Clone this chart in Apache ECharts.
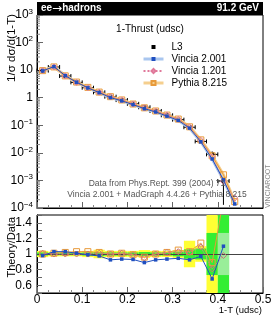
<!DOCTYPE html>
<html><head><meta charset="utf-8">
<script src="https://cdn.jsdelivr.net/npm/echarts@6/dist/echarts.min.js"></script>
<style>html,body{margin:0;padding:0;background:#fff}#c{width:277px;height:323px}</style>
</head><body><div id="c"></div>
<script>
// ---- data ----
const binCenters = [0.0125,0.0375,0.0625,0.0875,0.1125,0.1375,0.1625,0.1875,0.2125,0.2375,0.2625,0.2875,0.3125,0.3375,0.3625,0.3875,0.4125];
const mcCenters  = [0.0125,0.0375,0.0625,0.0875,0.1125,0.1375,0.1625,0.1875,0.2125,0.2375,0.2625,0.2875,0.3125,0.3375,0.3625,0.3875,0.4125,0.4375];
const binHalfWidth = 0.0125;
const l3Values = [9.6,13.0,6.1,3.6,2.3,1.57,1.09,0.82,0.60,0.45,0.33,0.23,0.16,0.085,0.026,0.0088,0.00095];
const l3Errors = [0.3,0.4,0.2,0.1,0.07,0.05,0.04,0.03,0.02,0.02,0.015,0.01,0.008,0.008,0.002,0.0025,0.00082];
const vincia2Values = [9.4,13.4,6.3,3.64,2.28,1.53,1.01,0.77,0.56,0.40,0.305,0.215,0.151,0.079,0.0252,0.0060,0.00105,0.00014];
const vincia1Values = [9.7,13.0,6.1,3.6,2.3,1.59,1.09,0.83,0.59,0.43,0.33,0.235,0.165,0.087,0.0283,0.0071,0.00093,0.00023];
const pythiaValues  = [9.6,13.1,6.2,3.7,2.37,1.6,1.09,0.83,0.59,0.43,0.33,0.235,0.168,0.088,0.0296,0.0078,0.0016,0.00017];
const vincia2Ratio = [0.98,1.03,1.03,1.01,0.99,0.975,0.925,0.935,0.93,0.89,0.925,0.935,0.945,0.925,0.97,0.68,1.10];
const vincia1Ratio = [1.01,1.0,1.0,1.0,1.0,1.01,1.0,1.01,0.99,0.95,1.0,1.02,1.03,1.02,1.09,0.81,0.98];
const pythiaRatio  = [1.0,1.01,1.02,1.03,1.03,1.02,1.0,1.01,0.99,0.96,1.0,1.02,1.05,1.03,1.14,0.89,1.70];
const totalErrHW = [0.04,0.03,0.03,0.03,0.04,0.055,0.04,0.04,0.04,0.05,0.04,0.04,0.05,0.17,0.10,1.0,0.27];
const statErrHW  = [0.02,0.015,0.015,0.015,0.02,0.025,0.02,0.02,0.02,0.025,0.02,0.02,0.03,0.06,0.07,0.27,1.0];
const logMinorMantissas = [2,3,4,5,6,7,8,9];
const logDecades = [-4,-3,-2,-1,0,1,2];

// ---- styles ----
const FONT = "'Liberation Sans', Arial, sans-serif";
const C_V2 = '#1f4fc0', C_V2_BAND = '#a9c6ef';
const C_V1 = '#e0789a';
const C_PY = '#e89a3a', C_PY_BAND = '#f5cf8e';

const chart = echarts.init(document.getElementById('c'), null, {renderer:'canvas'});

function pairs(xs, ys){ return ys.map((y,i)=>[xs[i], y]); }
const minorLogTicks = [];
logDecades.forEach(k => logMinorMantissas.forEach(m => minorLogTicks.push([0, m*Math.pow(10,k)])));

function supLabel(v){
  const e = Math.round(Math.log10(v));
  if (e === 0) return '1';
  if (e === 1) return '10';
  return '10{s|' + (e < 0 ? '\u2212' + (-e) : e) + '}';
}

const errBarSeries = {
  type:'custom', xAxisIndex:0, yAxisIndex:0, silent:true, z:3,
  data: binCenters.map((x,i)=>[x, l3Values[i], l3Errors[i]]),
  renderItem(params, api){
    const x = api.value(0), y = api.value(1), e = api.value(2);
    const pL = api.coord([x-binHalfWidth, y]);
    const pR = api.coord([x+binHalfWidth, y]);
    const pT = api.coord([x, y+e]);
    const pB = api.coord([x, Math.max(y-e, 1e-4)]);
    const st = {stroke:'#000', lineWidth:1};
    return {type:'group', children:[
      {type:'line', shape:{x1:pL[0],y1:pL[1],x2:pR[0],y2:pR[1]}, style:st},
      {type:'line', shape:{x1:pL[0],y1:pL[1]-2,x2:pL[0],y2:pL[1]+2}, style:st},
      {type:'line', shape:{x1:pR[0],y1:pR[1]-2,x2:pR[0],y2:pR[1]+2}, style:st},
      {type:'line', shape:{x1:pT[0],y1:pT[1],x2:pB[0],y2:pB[1]}, style:st}
    ]};
  }
};

const minorTickSeries = {
  type:'custom', xAxisIndex:0, yAxisIndex:0, silent:true, z:5,
  data: minorLogTicks,
  renderItem(params, api){
    const p = api.coord([api.value(0), api.value(1)]);
    return {type:'line', shape:{x1:p[0], y1:p[1], x2:p[0]+3, y2:p[1]}, style:{stroke:'#888', lineWidth:1}};
  }
};

const bandSeries = {
  type:'custom', xAxisIndex:1, yAxisIndex:1, silent:true, z:1, clip:true,
  data: binCenters.map((x,i)=>[x, totalErrHW[i], statErrHW[i]]),
  renderItem(params, api){
    const x = api.value(0), t = api.value(1), s = api.value(2);
    const cs = params.coordSys;
    function rect(hw, fill){
      const a = api.coord([x-binHalfWidth, 1+hw]);
      const b = api.coord([x+binHalfWidth, 1-hw]);
      const y0 = Math.max(a[1], cs.y), y1 = Math.min(b[1], cs.y+cs.height);
      return {type:'rect', shape:{x:a[0], y:y0, width:b[0]-a[0], height:y1-y0}, style:{fill:fill}};
    }
    const ch = [];
    if (t >= s){ ch.push(rect(t,'#ffff33')); ch.push(rect(s,'#33ee33')); }
    else { ch.push(rect(s,'#33ee33')); ch.push(rect(t,'#99ee99')); }
    return {type:'group', children: ch};
  },
  markLine:{silent:true, symbol:'none', label:{show:false}, lineStyle:{color:'#444', width:1, type:'solid'}, data:[{yAxis:1}]}
};

const axisLbl = {color:'#000', fontFamily:FONT, fontSize:12};

const option = {
  animation:false,
  grid:[
    {left:37, right:14, top:15, height:193, show:true, borderColor:'#000', borderWidth:1, backgroundColor:'transparent'},
    {left:37, right:14, top:215, height:78, show:true, borderColor:'#000', borderWidth:1, backgroundColor:'transparent'}
  ],
  xAxis:[
    {gridIndex:0, type:'value', min:0, max:0.5, interval:0.1,
     axisLine:{lineStyle:{color:'#000'}}, axisTick:{inside:true, length:6, lineStyle:{color:'#666'}},
     minorTick:{show:true, splitNumber:4, length:3, lineStyle:{color:'#888'}},
     axisLabel:{show:false}, splitLine:{show:false}},
    {gridIndex:1, type:'value', min:0, max:0.5, interval:0.1,
     axisLine:{lineStyle:{color:'#000'}}, axisTick:{inside:true, length:6, lineStyle:{color:'#666'}},
     minorTick:{show:true, splitNumber:4, length:3, lineStyle:{color:'#888'}},
     axisLabel:Object.assign({margin:1, formatter:v=>(v===0?'0':String(+v.toFixed(1)))}, axisLbl),
     splitLine:{show:false}}
  ],
  yAxis:[
    {gridIndex:0, type:'log', logBase:10, min:1e-4, max:1e3,
     axisLine:{lineStyle:{color:'#000'}}, axisTick:{inside:true, length:6, lineStyle:{color:'#666'}},
     axisLabel:Object.assign({margin:4, formatter:supLabel, rich:{s:{fontSize:8, fontFamily:FONT, color:'#000', padding:[0,0,7,0]}}}, axisLbl),
     splitLine:{show:false}},
    {gridIndex:1, type:'value', min:0.5, max:1.5, interval:0.1,
     axisLine:{lineStyle:{color:'#000'}}, axisTick:{inside:true, length:5, lineStyle:{color:'#666'}},
     axisLabel:Object.assign({margin:5, formatter:v=>{const r=Math.round(v*10); if(r%2!==0||r<6||r>14) return ''; return r===10?'1':(r/10).toFixed(1);}}, axisLbl),
     splitLine:{show:false}}
  ],
  legend:{
    orient:'vertical', left:137, top:37, itemWidth:20, itemHeight:5, itemGap:2,
    textStyle:{fontFamily:FONT, fontSize:10, lineHeight:10, color:'#000', padding:[0,0,0,3]},
    data:[
      {name:'L3'},
      {name:'Vincia 2.001', lineStyle:{color:C_V2_BAND, width:3}},
      {name:'Vincia 1.201'},
      {name:'Pythia 8.215', lineStyle:{color:C_PY_BAND, width:3}}
    ]
  },
  series:[
    errBarSeries,
    {name:'L3', type:'line', xAxisIndex:0, yAxisIndex:0, z:3, data:pairs(binCenters,l3Values),
     symbol:'rect', symbolSize:4, itemStyle:{color:'#000'}, lineStyle:{opacity:0, width:0}},
    {name:'v2band', type:'line', xAxisIndex:0, yAxisIndex:0, z:4, silent:true, data:pairs(mcCenters,vincia2Values),
     symbol:'none', lineStyle:{color:C_V2_BAND, width:3}},
    {name:'pyband', type:'line', xAxisIndex:0, yAxisIndex:0, z:4, silent:true, data:pairs(mcCenters,pythiaValues),
     symbol:'none', lineStyle:{color:C_PY_BAND, width:3}},
    {name:'Pythia 8.215', type:'line', xAxisIndex:0, yAxisIndex:0, z:5, data:pairs(mcCenters,pythiaValues),
     symbol:'rect', symbolSize:6, itemStyle:{color:'rgba(0,0,0,0)', borderColor:C_PY, borderWidth:1}, lineStyle:{color:C_PY, width:1}},
    {name:'Vincia 1.201', type:'line', xAxisIndex:0, yAxisIndex:0, z:6, data:pairs(mcCenters,vincia1Values),
     symbol:'diamond', symbolSize:6, itemStyle:{color:'rgba(0,0,0,0)', borderColor:C_V1, borderWidth:1}, lineStyle:{color:C_V1, width:1, type:'dotted'}},
    {name:'Vincia 2.001', type:'line', xAxisIndex:0, yAxisIndex:0, z:7, data:pairs(mcCenters,vincia2Values),
     symbol:'rect', symbolSize:3.5, itemStyle:{color:C_V2}, lineStyle:{color:C_V2, width:1}},
    minorTickSeries,
    bandSeries,
    {name:'Pythia 8.215', type:'line', xAxisIndex:1, yAxisIndex:1, z:5, data:pairs(binCenters,pythiaRatio),
     symbol:'rect', symbolSize:6, itemStyle:{color:'rgba(0,0,0,0)', borderColor:C_PY, borderWidth:1}, lineStyle:{color:C_PY, width:1}},
    {name:'Vincia 1.201', type:'line', xAxisIndex:1, yAxisIndex:1, z:6, data:pairs(binCenters,vincia1Ratio),
     symbol:'diamond', symbolSize:6, itemStyle:{color:'rgba(0,0,0,0)', borderColor:'#c8707a', borderWidth:1}, lineStyle:{color:C_V1, width:1, type:'dotted'}},
    {name:'Vincia 2.001', type:'line', xAxisIndex:1, yAxisIndex:1, z:7, data:pairs(binCenters,vincia2Ratio),
     symbol:'rect', symbolSize:3.5, itemStyle:{color:C_V2}, lineStyle:{color:C_V2, width:1}}
  ],
  graphic:[
    {type:'rect', left:37, top:2, shape:{width:226, height:13}, style:{fill:'#000'}, z:10},
    {type:'text', x:41, y:8.5, z:11, style:{text:'{a|ee}{b|\u2192}{a|hadrons}', fill:'#fff', textVerticalAlign:'middle', textAlign:'left',
      rich:{a:{fontFamily:FONT, fontSize:10, fontWeight:'bold', fill:'#fff', color:'#fff'}, b:{fontFamily:"'DejaVu Sans', sans-serif", fontSize:12, fill:'#fff', color:'#fff'}}}},
    {type:'text', x:259, y:8.5, z:11, style:{text:'91.2 GeV', fill:'#fff', font:'bold 10px '+FONT, textVerticalAlign:'middle', textAlign:'right'}},
    {type:'text', x:150, y:29, z:11, style:{text:'1-Thrust (udsc)', fill:'#000', font:'10px '+FONT, textVerticalAlign:'middle', textAlign:'center'}},
    {type:'text', x:157, y:184, z:11, style:{text:'Data from Phys.Rept. 399 (2004) 71', fill:'#555', font:'8.5px '+FONT, textVerticalAlign:'middle', textAlign:'center'}},
    {type:'text', x:157, y:195, z:11, style:{text:'Vincia 2.001 + MadGraph 4.4.26 + Pythia 8.215', fill:'#555', font:'8.5px '+FONT, textVerticalAlign:'middle', textAlign:'center'}},
    {type:'text', x:268, y:208, rotation:Math.PI/2, z:11, style:{text:'VINCIAROOT', fill:'#888', font:'7px '+FONT, textVerticalAlign:'middle', textAlign:'left'}},
    {type:'text', x:12, y:14, rotation:Math.PI/2, z:11, style:{text:'1/\u03c3 d\u03c3/d(1-T)', fill:'#000', font:'11.5px '+FONT, textVerticalAlign:'middle', textAlign:'right'}},
    {type:'text', x:12, y:217, rotation:Math.PI/2, z:11, style:{text:'Theory/Data', fill:'#000', font:'11px '+FONT, textVerticalAlign:'middle', textAlign:'right'}},
    {type:'text', x:262, y:310, z:11, style:{text:'1-T (udsc)', fill:'#000', font:'9.5px '+FONT, textVerticalAlign:'middle', textAlign:'right'}}
  ]
};
chart.setOption(option);
</script></body></html>
